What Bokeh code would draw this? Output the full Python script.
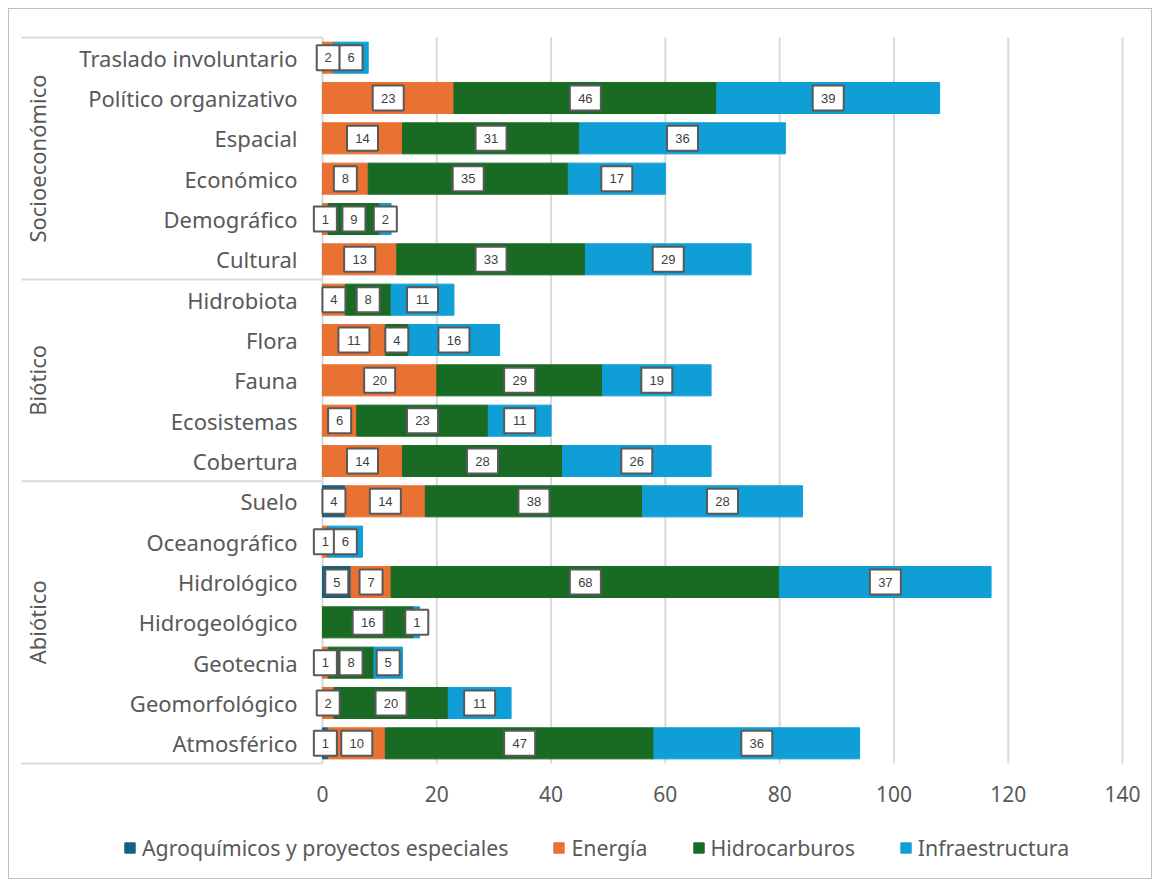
import math
from bokeh.plotting import figure
from bokeh.models import ColumnDataSource, Legend, LegendItem, Range1d
from bokeh.core.properties import value
from bokeh.embed import file_html
from bokeh.resources import INLINE

# ---------------- data (bottom to top) ----------------
abiotico = ["Atmosférico", "Geomorfológico", "Geotecnia", "Hidrogeológico",
            "Hidrológico", "Oceanográfico", "Suelo"]
biotico = ["Cobertura", "Ecosistemas", "Fauna", "Flora", "Hidrobiota"]
socioeconomico = ["Cultural", "Demográfico", "Económico", "Espacial",
                  "Político organizativo", "Traslado involuntario"]
group_names = ["Abiótico", "Biótico", "Socioeconómico"]

agroquimicos = [1, 0, 0, 0, 5, 0, 4,   0, 0, 0, 0, 0,    0, 0, 0, 0, 0, 0]
energia      = [10, 2, 1, 0, 7, 1, 14, 14, 6, 20, 11, 4, 13, 1, 8, 14, 23, 2]
hidrocarb    = [47, 20, 8, 16, 68, 0, 38, 28, 23, 29, 4, 8, 33, 9, 35, 31, 46, 0]
infraestr    = [36, 11, 5, 1, 37, 6, 28, 26, 11, 19, 16, 11, 29, 2, 17, 36, 39, 6]

series_names = ["Agroquímicos y proyectos especiales", "Energía", "Hidrocarburos", "Infraestructura"]
colors = ["#156082", "#E97132", "#196B24", "#0F9ED5"]
x_ticks = [0, 20, 40, 60, 80, 100, 120, 140]

# ---------------- build ----------------
groups = [abiotico, biotico, socioeconomico]
categories = [c for g in groups for c in g]
n = len(categories)
ypos = [i + 0.5 for i in range(n)]
series = [agroquimicos, energia, hidrocarb, infraestr]
keys = ["s0", "s1", "s2", "s3"]

src = ColumnDataSource(dict(y=ypos, **{k: v for k, v in zip(keys, series)}))

W, H = 1144, 871
PXX = 800 / 140.0          # px per value unit
PXY = 726 / n              # px per category row
X0, Y0 = 313, 754          # canvas position of value 0 / bottom of the category area
p = figure(width=W, height=H,
           x_range=Range1d(-X0 / PXX, (W - X0) / PXX),
           y_range=Range1d(-(H - Y0) / PXY, Y0 / PXY),
           output_backend="svg", toolbar_location=None,
           x_axis_location=None, y_axis_location=None, min_border=0,
           styles={"border": "1px solid #bfbfbf", "margin": "8px 0 0 8px"})
p.outline_line_color = None
p.xgrid.visible = False
p.ygrid.visible = False

# vertical grid lines (value axis)
p.segment(x0=x_ticks, x1=x_ticks, y0=[0] * len(x_ticks), y1=[n] * len(x_ticks),
          line_color="#d9d9d9", line_width=2)

rends = p.hbar_stack(keys, y="y", height=0.77, color=colors, source=src)

# data labels
lx, ly, lt, lw = [], [], [], []
for i, yv in enumerate(ypos):
    cum = 0
    for s in series:
        v = s[i]
        if v > 0:
            lx.append(cum + v / 2)
            ly.append(yv)
            lt.append(str(v))
            lw.append(15 + 8 * len(str(v)))
        cum += v
lsrc = ColumnDataSource(dict(x=lx, y=ly, t=lt, w=lw))
p.rect(x="x", y="y", width="w", height=25, width_units="screen", height_units="screen",
       source=lsrc, fill_color="white", line_color="#595959", line_width=2)
p.text(x="x", y="y", text="t", source=lsrc, text_align="center", text_baseline="middle",
       text_font=value("Liberation Sans"), text_font_size="13px", text_color="#404040")

# category labels
csrc = ColumnDataSource(dict(x=[-25 / PXX] * n, y=ypos, t=categories))
p.text(x="x", y="y", text="t", source=csrc, text_align="right", text_baseline="middle",
       text_font=value("Noto Sans"), text_font_size="22px", text_color="#595959")

# group labels and separators
bounds = [0]
for g in groups:
    bounds.append(bounds[-1] + len(g))
gmid = [(bounds[i] + bounds[i + 1]) / 2 for i in range(len(groups))]
gsrc = ColumnDataSource(dict(x=[-286 / PXX] * len(groups), y=gmid, t=group_names))
p.text(x="x", y="y", text="t", source=gsrc, angle=math.pi / 2, text_align="center",
       text_baseline="middle", text_font=value("Noto Sans"), text_font_size="22px",
       text_color="#595959")
p.segment(x0=[-301 / PXX] * len(bounds), x1=[0] * len(bounds), y0=bounds, y1=bounds,
          line_color="#d9d9d9", line_width=2)

# value tick labels
tsrc = ColumnDataSource(dict(x=x_ticks, y=[-30 / PXY] * len(x_ticks), t=[str(t) for t in x_ticks]))
p.text(x="x", y="y", text="t", source=tsrc, text_align="center", text_baseline="middle",
       text_font=value("Noto Sans"), text_font_size="21px", text_color="#595959")

# legend
items = [LegendItem(label=nm, renderers=[r]) for nm, r in zip(series_names, rends)]
legend = Legend(items=items, orientation="horizontal", location=(114, 18),
                glyph_width=13, glyph_height=13, label_standoff=6, spacing=44,
                label_text_font="Noto Sans", label_text_font_size="21.3px",
                label_text_color="#595959", padding=0, margin=0,
                border_line_color=None, background_fill_alpha=0)
p.add_layout(legend, "center")

open("out.html", "w").write(file_html(p, INLINE))
